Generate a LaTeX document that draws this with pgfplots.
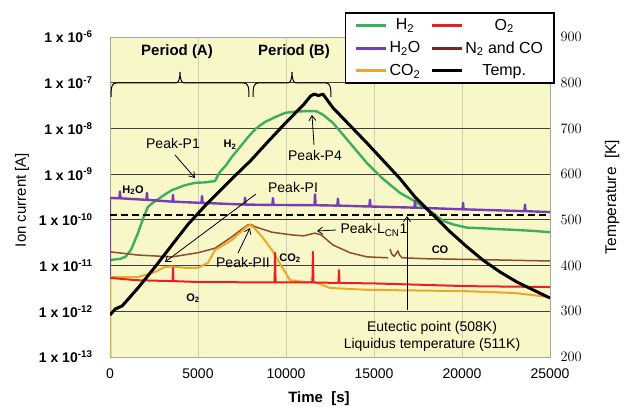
\documentclass[border=0pt]{standalone}
\usepackage{pgfplots}
\pgfplotsset{compat=1.18}
\usepackage{fontspec}
\setmainfont{Liberation Sans}
\usetikzlibrary{arrows.meta}
\definecolor{bgy}{RGB}{248,247,200}
\definecolor{hcol}{RGB}{60,175,90}
\definecolor{wcol}{RGB}{120,60,180}
\definecolor{ccol}{RGB}{238,168,40}
\definecolor{ocol}{RGB}{235,30,35}
\definecolor{ncol}{RGB}{145,75,45}
\definecolor{ncolleg}{RGB}{115,40,40}
\definecolor{gridc}{RGB}{205,205,185}
\begin{document}
\begin{tikzpicture}[x=1pt,y=1pt]
\useasboundingbox (0,0) rectangle (630,407);
\begin{axis}[
  at={(110pt,50pt)}, anchor=south west,
  width=440pt, height=320pt, scale only axis,
  xmin=0, xmax=25000, ymode=log, ymin=1e-13, ymax=1e-6,
  scaled x ticks=false,
  xtick={0,5000,10000,15000,20000,25000},
  xticklabels={0,5000,10000,15000,20000,25000},
  ytick={1e-13,1e-12,1e-11,1e-10,1e-9,1e-8,1e-7,1e-6},
  yticklabels={1 x 10\textsuperscript{-13},1 x 10\textsuperscript{-12},1 x 10\textsuperscript{-11},1 x 10\textsuperscript{-10},1 x 10\textsuperscript{-9},1 x 10\textsuperscript{-8},1 x 10\textsuperscript{-7},1 x 10\textsuperscript{-6}},
  xticklabel style={font=\fontsize{14}{16}\selectfont, yshift=-8pt},
  yticklabel style={font=\bfseries\fontsize{14}{16}\selectfont, xshift=-14pt},
  tick style={draw=none},
  minor tick num=0,
  axis line style={draw=gray!70, line width=1pt},
  axis background/.style={fill=bgy},
  xmajorgrids, ymajorgrids,
  x grid style={gridc, line width=0.8pt},
  y grid style={black!75, line width=0.8pt},
]
% H2
\addplot[hcol, line width=2.4pt, line join=round] coordinates {
(0,1.32e-11) (600,1.41e-11) (900,1.58e-11) (1200,2.24e-11) (1590,5.13e-11) (1900,1.12e-10) (2150,1.91e-10) (2450,2.4e-10) (2730,2.82e-10) (3100,3.55e-10) (3520,4.47e-10) (4200,5.62e-10) (4830,6.46e-10) (5400,6.6e-10) (5970,7.08e-10) (6100,8.9e-10) (6250,1.12e-9) (6600,1.58e-9) (6930,2.4e-9) (7400,3.98e-9) (7840,6.46e-9) (8300,1.0e-8) (8800,1.38e-8) (9400,1.78e-8) (9950,2.19e-8) (10600,2.34e-8) (11250,2.4e-8) (11700,2.4e-8) (12100,2.0e-8) (12670,1.32e-8) (13600,5.0e-9) (14600,1.74e-9) (15500,7.94e-10) (16480,3.89e-10) (17220,2.69e-10) (17800,1.91e-10) (18350,1.41e-10) (18920,9.55e-11) (19500,7.94e-11) (20280,6.76e-11) (21000,6.6e-11) (22000,6.3e-11) (23000,6.03e-11) (24000,5.75e-11) (25000,5.37e-11)
};
% H2O
\addplot[wcol, line width=2.4pt, line join=round] coordinates {
(0,1e-13) (0,3.02e-10) (538,2.96e-10) (568,4.2e-10) (598,2.96e-10) (2070,2.74e-10) (2100,3.9e-10) (2130,2.74e-10) (3550,2.5e-10) (3580,3.5e-10) (3610,2.5e-10) (5200,2.35e-10) (5230,3.3e-10) (5260,2.35e-10) (7640,2.16e-10) (7670,3.05e-10) (7700,2.16e-10) (9230,2.12e-10) (9260,3.0e-10) (9290,2.12e-10) (11620,2.09e-10) (11650,3.6e-10) (11680,2.09e-10) (12920,2.05e-10) (12950,2.9e-10) (12980,2.05e-10) (14740,1.96e-10) (14770,2.75e-10) (14800,1.96e-10) (17300,1.85e-10) (17330,2.6e-10) (17360,1.85e-10) (20030,1.70e-10) (20060,2.35e-10) (20090,1.70e-10) (23550,1.55e-10) (23580,2.15e-10) (23610,1.55e-10) (25000,1.48e-10)
};
% N2 and CO
\addplot[ncol, line width=1.5pt, line join=round] coordinates {
(0,2.0e-11) (1590,1.70e-11) (3520,1.55e-11) (5000,1.91e-11) (5970,2.40e-11) (6930,4.27e-11) (7500,6.3e-11) (7840,7.76e-11) (8000,7.94e-11) (8240,7.08e-11) (9200,5.37e-11) (10340,4.68e-11) (11000,4.47e-11) (11650,5.13e-11) (12000,4.68e-11) (12670,2.82e-11) (13640,1.91e-11) (14600,1.55e-11) (15800,1.48e-11)
};
\addplot[ncol, line width=1.5pt, line join=round] coordinates {
(15910,2.29e-11) (16000,1.8e-11) (16150,1.58e-11) (16360,2.09e-11) (16450,1.7e-11) (16600,1.48e-11) (18000,1.41e-11) (21000,1.35e-11) (25000,1.26e-11)
};
% CO2
\addplot[ccol, line width=2pt, line join=round] coordinates {
(0,1e-13) (0,5.62e-12) (1590,5.62e-12) (2560,7.24e-12) (3120,9.33e-12) (3500,9.55e-12) (4260,8.91e-12) (5000,8.91e-12) (5570,1.15e-11) (5970,2.19e-11) (6930,3.63e-11) (7670,6.61e-11) (7950,7.76e-11) (8200,6.61e-11) (8640,4.27e-11) (9200,2.19e-11) (9770,9.33e-12) (10230,4.79e-12) (11080,4.37e-12) (11700,4.27e-12) (12500,3.24e-12) (14600,2.95e-12) (20280,2.75e-12) (23000,2.51e-12) (25000,2.04e-12)
};
% O2
\addplot[ocol, line width=2pt, line join=round] coordinates {
(0,5.37e-12) (1500,4.79e-12) (3550,4.57e-12) (3580,8.91e-12) (3610,4.57e-12) (5000,4.37e-12) (9350,4.27e-12) (9380,1.91e-11) (9410,4.27e-12) (11500,4.27e-12) (11530,2.0e-11) (11560,4.27e-12) (12980,4.17e-12) (13010,7.94e-12) (13040,4.17e-12) (15000,4.07e-12) (20280,3.55e-12) (25000,3.39e-12)
};
\end{axis}
\begin{axis}[
  at={(110pt,50pt)}, anchor=south west,
  width=440pt, height=320pt, scale only axis,
  xmin=0, xmax=25000, ymin=200, ymax=900,
  axis x line=none, axis y line*=right,
  ytick={200,300,400,500,600,700,800,900},
  yticklabel style={font=\fontsize{14}{16}\selectfont, xshift=7pt},
  tick style={draw=none},
  axis line style={draw=gray!70, line width=1pt},
  legend columns=2, legend cell align=center,
  legend style={at={(1.0114,1.078)}, anchor=north east, draw=black, line width=1.6pt, fill=white,
    font=\fontsize{16}{18}\selectfont, row sep=6pt, inner xsep=9pt, inner ysep=4pt,
    /tikz/every even column/.append style={column sep=8pt}},
  legend image code/.code={\draw[#1] (0pt,0pt) -- (30pt,0pt);},
]
\addlegendimage{hcol, line width=3pt}
\addlegendentry{H\textsubscript{2}}
\addlegendimage{ocol, line width=3pt}
\addlegendentry{O\textsubscript{2}}
\addlegendimage{wcol, line width=3pt}
\addlegendentry{H\textsubscript{2}O}
\addlegendimage{ncolleg, line width=3pt}
\addlegendentry{N\textsubscript{2} and CO}
\addlegendimage{ccol, line width=3pt}
\addlegendentry{CO\textsubscript{2}}
\addplot[black, line width=3pt, line join=round] coordinates {
(0,292) (300,305) (700,312) (1590,351) (2560,397) (3520,445) (4430,490) (5500,535) (6930,590) (8000,630) (9000,672) (10000,713) (11000,752) (11400,771) (11600,775) (11850,772) (12100,775) (12670,745) (14600,668) (16480,590) (17330,550) (18350,511) (19320,474) (20280,441) (21190,412) (22160,386) (23120,364) (24030,347) (25000,329)
};
\addlegendentry{Temp.}
\addplot[black, line width=1.6pt, dash pattern=on 7pt off 4pt, forget plot] coordinates {(0,511) (25000,511)};
\end{axis}
% braces
\draw[line width=1pt] (111,310) .. controls (111,320) and (112,324) .. (116,324) -- (176,324) .. controls (179,324) and (180,330) .. (180,335) .. controls (180,330) and (181,324) .. (184,324) -- (244,324) .. controls (248,324) and (249,320) .. (249,310);
\draw[line width=1pt] (253,310) .. controls (253,320) and (254,324) .. (258,324) -- (288,324) .. controls (291,324) and (292,330) .. (292,335) .. controls (292,330) and (293,324) .. (296,324) -- (326,324) .. controls (330,324) and (331,320) .. (331,310);
\node[font=\bfseries\fontsize{15}{17}\selectfont] at (177,355) {Period (A)};
\node[font=\bfseries\fontsize{15}{17}\selectfont] at (294,355) {Period (B)};
% annotations
\begin{scope}[font=\fontsize{14}{16}\selectfont]
\node at (173,264) {Peak-P1};
\draw[line width=0.8pt, -{Straight Barb[length=5pt,width=7pt]}] (175,252) -- (195,229);
\node at (315,252) {Peak-P4};
\draw[line width=0.8pt, -{Straight Barb[length=5pt,width=7pt]}] (314,262) -- (312,292);
\node at (293,220) {Peak-PI};
\draw[line width=0.8pt, -{Straight Barb[length=5pt,width=7pt]}] (256,213) -- (165,145);
\node at (243,145) {Peak-PII};
\draw[line width=0.8pt, -{Straight Barb[length=5pt,width=7pt]}] (238,154) -- (250,179);
\node[anchor=west] at (337,177) {Peak-L\textsubscript{CN}1};
\draw[line width=0.8pt, -{Straight Barb[length=5pt,width=7pt]}] (336,177) -- (317,176);
\draw[line width=0.8pt, -{Straight Barb[length=5pt,width=7pt]}] (407,97) -- (407,191);
\node at (432,79) {Eutectic point (508K)};
\node at (432,62) {Liquidus temperature (511K)};
\end{scope}
\begin{scope}[font=\bfseries\fontsize{11}{13}\selectfont]
\node at (230,262) {H\textsubscript{2}};
\node at (133,217) {H\textsubscript{2}O};
\node at (290,149) {CO\textsubscript{2}};
\node at (193,109) {O\textsubscript{2}};
\node at (440,157) {CO};
\end{scope}
% axis labels
\node[rotate=90, font=\fontsize{15}{17}\selectfont] at (22,207) {Ion current [A]};
\node[rotate=90, font=\fontsize{15.5}{17}\selectfont] at (612,210) {Temperature\ \ [K]};
\node[font=\bfseries\fontsize{15}{17}\selectfont] at (319,8) {Time\ \ [s]};
\end{tikzpicture}
\end{document}
